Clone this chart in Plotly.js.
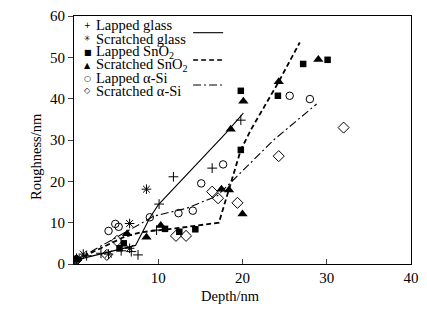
<!DOCTYPE html>
<html>
<head>
<meta charset="utf-8">
<script src="https://cdn.plot.ly/plotly-3.0.1.min.js"></script>
<style>html,body{margin:0;padding:0;background:#fff;}#chart{width:427px;height:316px;}</style>
</head>
<body>
<div id="chart"></div>
<script>
// Data (Depth/nm vs Roughness/nm)
const lappedGlassX = [0.3, 1.5, 3.2, 5.6, 6.8, 7.6, 9.8, 10.1, 11.8, 16.4, 19.8];
const lappedGlassY = [1.0, 2.0, 2.6, 3.2, 3.0, 2.2, 8.2, 14.5, 21.1, 23.2, 34.8];

const scratchedGlassX = [0.3, 1.1, 4.1, 6.6, 6.6, 8.6];
const scratchedGlassY = [1.4, 2.4, 2.4, 3.8, 9.8, 18.1];

const lappedSnO2X = [0.3, 5.4, 5.9, 10.8, 12.5, 14.4, 19.8, 19.8, 24.2, 27.2, 30.1];
const lappedSnO2Y = [1.1, 3.8, 5.0, 8.5, 7.8, 8.4, 27.6, 41.9, 40.7, 48.4, 49.4];

const scratchedSnO2X = [0.3, 6.3, 8.6, 10.3, 17.5, 18.4, 18.6, 20.1, 20.0, 24.3, 29.0];
const scratchedSnO2Y = [1.3, 7.3, 6.5, 9.3, 18.1, 17.9, 32.6, 39.4, 12.1, 44.1, 49.5];

const lappedSiX = [0.3, 4.1, 4.9, 5.3, 9.0, 12.4, 14.1, 15.1, 17.7, 25.6, 28.0];
const lappedSiY = [1.0, 8.0, 9.7, 9.0, 11.3, 12.3, 12.9, 19.5, 24.1, 40.7, 39.9];

const scratchedSiX = [0.3, 3.9, 5.1, 12.1, 13.3, 16.4, 17.1, 19.4, 24.3, 32.0];
const scratchedSiY = [1.0, 2.2, 5.6, 6.8, 6.8, 17.5, 15.9, 14.8, 26.1, 33.0];

// Fitted trend lines
const glassFitX = [0.3, 7.3, 8.2, 9.0, 10.0, 12.0, 14.0, 16.0, 18.0, 20.1];
const glassFitY = [1.0, 4.5, 8.0, 11.2, 14.3, 18.6, 22.8, 27.2, 31.6, 36.5];

const snFitX = [0.3, 6.0, 8.0, 12.0, 17.2, 18.4, 19.8, 21.0, 24.3, 26.8];
const snFitY = [1.0, 6.6, 7.7, 8.6, 10.0, 18.3, 27.6, 32.5, 44.1, 53.6];

const siFitX = [0.3, 6.6, 9.5, 13.4, 17.0, 18.5, 23.7, 28.8];
const siFitY = [1.0, 8.2, 11.6, 13.5, 16.5, 19.5, 30.0, 38.7];

const xTicks = [10, 20, 30, 40];
const yTicks = [0, 10, 20, 30, 40, 50, 60];

const xTitle = "Depth/nm";
const yTitle = "Roughness/nm";
const legendNames = ["Lapped glass", "Scratched glass", "Lapped SnO<sub>2</sub>", "Scratched SnO<sub>2</sub>", "Lapped α-Si", "Scratched α-Si"];
const legendGlyphs = ["+", "✳", "■", "▲", "○", "◇"];

const FONT = "Liberation Serif, Times New Roman, serif";
const black = "#000";

function pts(x, y, symbol, size, lw) {
  return {x: x, y: y, mode: "markers", type: "scatter", showlegend: false,
    marker: {symbol: symbol, size: size, color: black, line: {color: black, width: lw}}};
}
function fit(x, y, dash, w) {
  return {x: x, y: y, mode: "lines", type: "scatter", showlegend: false,
    line: {color: black, width: w, dash: dash}};
}

const traces = [
  fit(glassFitX, glassFitY, "solid", 1.1),
  fit(snFitX, snFitY, "5px,3px", 1.8),
  fit(siFitX, siFitY, "8px,3px,2px,3px", 1.1),
  pts(lappedGlassX, lappedGlassY, "cross-thin-open", 7, 1),
  pts(scratchedGlassX, scratchedGlassY, "asterisk-open", 8, 1),
  pts(lappedSnO2X, lappedSnO2Y, "square", 6.5, 0),
  pts(scratchedSnO2X, scratchedSnO2Y, "triangle-up", 9, 0),
  pts(lappedSiX, lappedSiY, "circle-open", 7.5, 1),
  pts(scratchedSiX, scratchedSiY, "diamond-open", 8.5, 1)
];

// manual legend
const rowY = [0.9637, 0.9073, 0.8548, 0.8024, 0.75, 0.6976];
const annotations = [];
legendNames.forEach((n, i) => {
  annotations.push({xref: "paper", yref: "paper", x: 0.0407, y: rowY[i], text: legendGlyphs[i],
    showarrow: false, xanchor: "center", yanchor: "middle", font: {family: "DejaVu Sans", size: 8, color: black}});
  annotations.push({xref: "paper", yref: "paper", x: 0.0594, y: rowY[i], text: n,
    showarrow: false, xanchor: "left", yanchor: "middle", font: {family: FONT, size: 14.5, color: black}});
});
// axis titles
annotations.push({xref: "paper", yref: "paper", x: 0.4633, y: -0.129, text: xTitle, showarrow: false,
  xanchor: "center", yanchor: "middle", font: {family: FONT, size: 14.5, color: black}});
annotations.push({xref: "paper", yref: "paper", x: -0.1129, y: 0.4355, text: yTitle, showarrow: false, textangle: -90,
  xanchor: "center", yanchor: "middle", font: {family: FONT, size: 14.5, color: black}});

const shapes = [
  {type: "line", xref: "paper", yref: "paper", x0: 0.3534, x1: 0.4425, y0: 0.9327, y1: 0.9327, line: {color: black, width: 1.1}},
  {type: "line", xref: "paper", yref: "paper", x0: 0.3534, x1: 0.4425, y0: 0.8226, y1: 0.8226, line: {color: black, width: 1.5, dash: "5px,3px"}},
  {type: "line", xref: "paper", yref: "paper", x0: 0.3534, x1: 0.4425, y0: 0.7218, y1: 0.7218, line: {color: black, width: 1.1, dash: "8px,3px,2px,3px"}}
];

const layout = {
  width: 427, height: 316,
  margin: {l: 74, r: 16, t: 16, b: 52},
  paper_bgcolor: "#fff", plot_bgcolor: "#fff",
  font: {family: FONT, size: 15, color: black},
  showlegend: false,
  xaxis: {range: [0, 40], tickvals: xTicks, ticktext: xTicks.map(String), ticks: "inside", ticklen: 5,
    showgrid: false, zeroline: false, showline: true, mirror: true, linecolor: black, linewidth: 1},
  yaxis: {range: [0, 60], tickvals: yTicks, ticktext: yTicks.map(String), ticks: "outside", ticklen: 5,
    showgrid: false, zeroline: false, showline: true, mirror: true, linecolor: black, linewidth: 1},
  annotations: annotations,
  shapes: shapes
};

Plotly.newPlot("chart", traces, layout, {staticPlot: true, displayModeBar: false});
</script>
</body>
</html>
